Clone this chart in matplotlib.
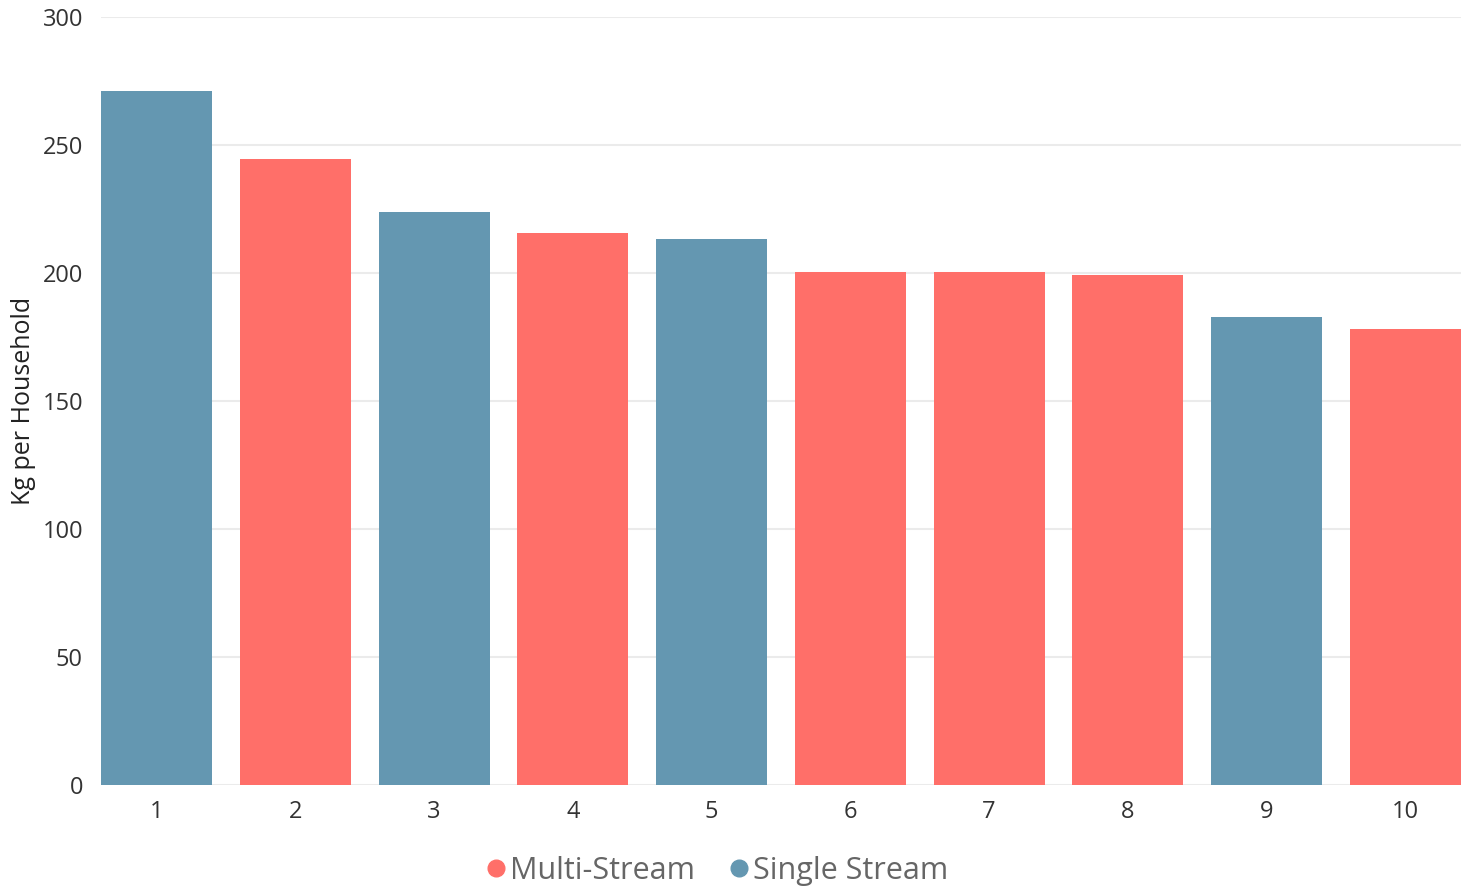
import matplotlib
matplotlib.use("Agg")
import matplotlib.pyplot as plt
from matplotlib.lines import Line2D

categories = ["1", "2", "3", "4", "5", "6", "7", "8", "9", "10"]
values = [271.1, 244.5, 223.8, 215.6, 213.3, 200.4, 200.4, 199.2, 182.8, 178.1]
streams = ["Single Stream", "Multi-Stream", "Single Stream", "Multi-Stream", "Single Stream",
           "Multi-Stream", "Multi-Stream", "Multi-Stream", "Single Stream", "Multi-Stream"]
yticks = [0, 50, 100, 150, 200, 250, 300]
colors = {"Multi-Stream": "#ff6f69", "Single Stream": "#6497b1"}

plt.rcParams['font.family'] = ['Open Sans', 'DejaVu Sans']

fig = plt.figure(figsize=(14.61, 8.93), dpi=100)
ax = fig.add_axes([101/1461, 1-785/893, 1-101/1461, (785-17)/893])

x = list(range(len(categories)))
ax.bar(x, values, width=0.8, color=[colors[s] for s in streams], zorder=3)
ax.set_xlim(-0.4, len(categories) - 0.6)
ax.set_ylim(0, 300)
ax.set_yticks(yticks)
ax.set_xticks(x)
ax.set_xticklabels(categories)
ax.grid(axis='y', color='#ebebeb', linewidth=1.5, zorder=0)
ax.tick_params(axis='both', length=0, labelsize=17, labelcolor='#333333')
ax.tick_params(axis='x', pad=11)
ax.tick_params(axis='y', pad=13)
for s in ax.spines.values():
    s.set_visible(False)
ax.set_ylabel("Kg per Household", fontsize=18, color='#222222')
ax.yaxis.set_label_coords((36 - 101) / 1360, 0.5)

handles = [Line2D([], [], marker='o', linestyle='none', markersize=12,
                  markerfacecolor=colors[k], markeredgecolor=colors[k], label=k)
           for k in ["Multi-Stream", "Single Stream"]]
fig.legend(handles=handles, loc='center', bbox_to_anchor=(715/1461, 1-871/893),
           ncol=2, frameon=False, fontsize=22, labelcolor='#666666',
           handletextpad=0.0, columnspacing=1.0, handlelength=0.9)

fig.savefig("out.png", dpi=100)
